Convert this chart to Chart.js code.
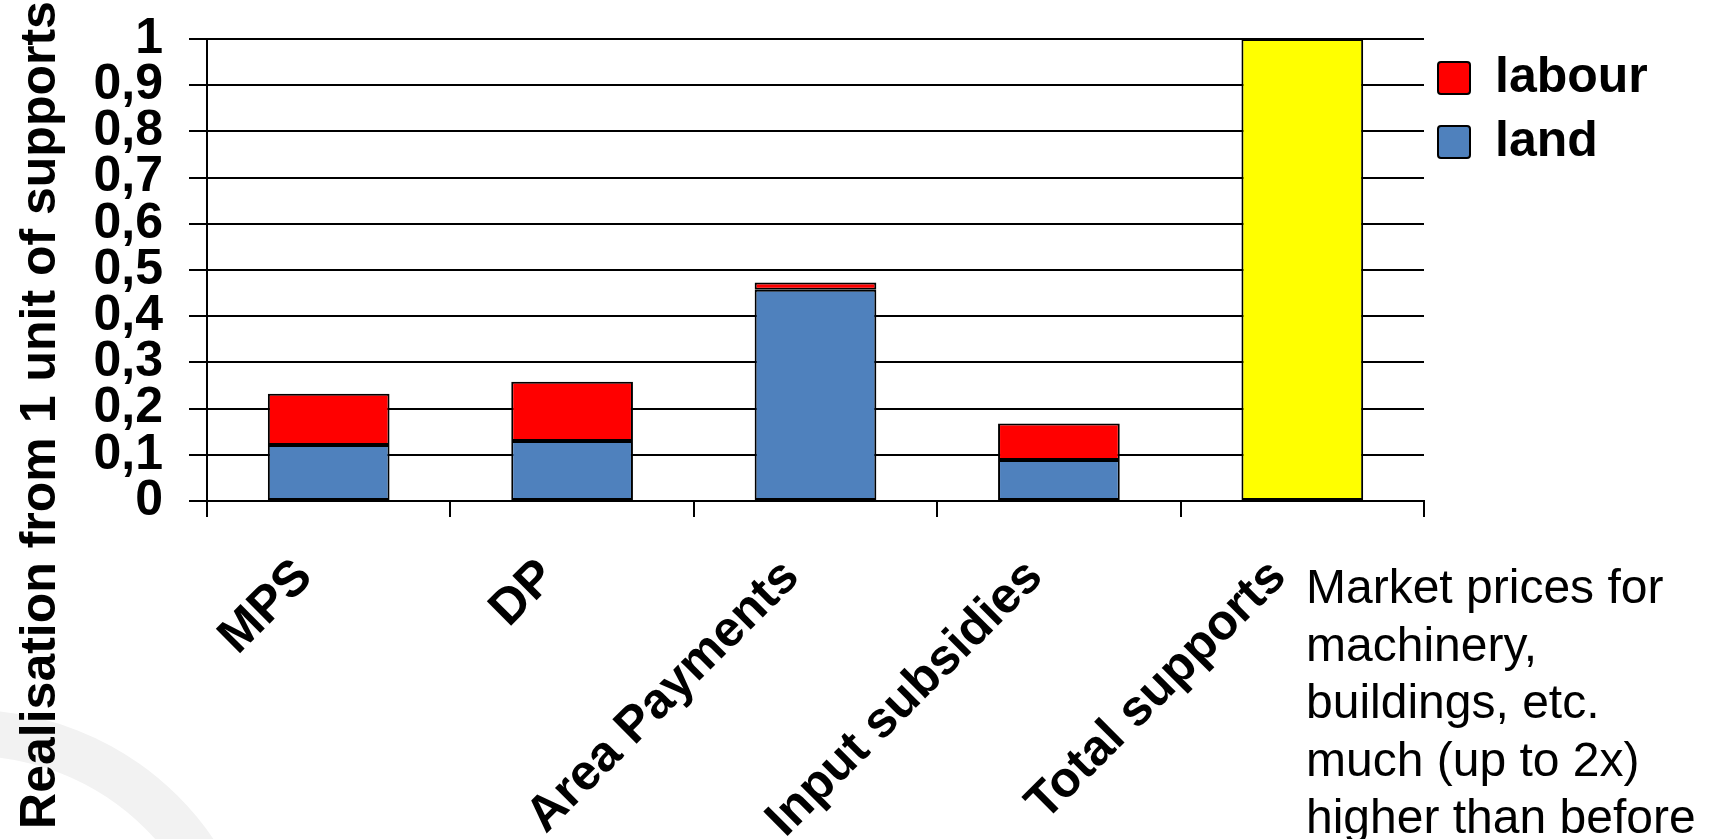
<!DOCTYPE html>
<html>
<head>
<meta charset="utf-8">
<title>Realisation from 1 unit of supports</title>
<script src="https://cdn.jsdelivr.net/npm/chart.js@4.4.1/dist/chart.umd.min.js"></script>
<style>
  html, body { margin: 0; padding: 0; background: #fff; overflow: hidden; }
  #wrap { position: relative; width: 1711px; height: 839px; overflow: hidden; }
  #ring { position: absolute; left: -324px; top: 710px; width: 588px; height: 588px;
          box-sizing: border-box; border: 46px solid #f2f2f2; border-radius: 50%; }
  #chartBox { position: absolute; left: 0; top: 0; width: 1711px; height: 839px; }
  #note { position: absolute; left: 1306px; top: 558px; color: #000; white-space: nowrap;
          font: 48px/57.5px "Liberation Sans", Arial, sans-serif; }
</style>
</head>
<body>
<div id="wrap">
  <div id="ring"></div>
  <div id="chartBox"><canvas id="supportChart"></canvas></div>
  <div id="note">Market prices for<br>machinery,<br>buildings, etc.<br>much (up to 2x)<br>higher than before</div>
</div>
<script>
// Data
const categories = ['MPS', 'DP', 'Area Payments', 'Input subsidies', 'Total supports'];
const landValues = [0.121, 0.130, 0.457, 0.089, null];
const labourValues = [0.111, 0.128, 0.016, 0.079, null];
const totalValues = [null, null, null, null, 1];
const yTickLabels = ['0', '0,1', '0,2', '0,3', '0,4', '0,5', '0,6', '0,7', '0,8', '0,9', '1'];
const yTitle = 'Realisation from 1 unit of supports';

document.addEventListener('DOMContentLoaded', function() {
    Chart.defaults.font.family = '"Liberation Sans", Arial, sans-serif';
    Chart.defaults.color = '#000';

    const boldFont = { size: 50, weight: 'bold' };

    // Fixed legend width so the plot ends where it does in the picture
    const legendWidthPlugin = {
        id: 'legendWidth',
        beforeLayout(chart) {
            const lg = chart.legend;
            if (lg && !lg._fixedWidth) {
                const fit = lg.fit;
                lg.fit = function() {
                    fit.call(this);
                    this.width = 287;
                };
                lg._fixedWidth = true;
            }
        }
    };

    // Vertical axis title, longer than the plot, so drawn by hand
    const yTitlePlugin = {
        id: 'yTitle',
        afterDraw(chart) {
            const ctx = chart.ctx;
            ctx.save();
            ctx.translate(55, 415);
            ctx.rotate(-Math.PI / 2);
            ctx.font = 'bold 50px "Liberation Sans", Arial, sans-serif';
            ctx.fillStyle = '#000';
            ctx.textAlign = 'center';
            ctx.textBaseline = 'alphabetic';
            ctx.fillText(yTitle, 0, 0);
            ctx.restore();
        }
    };

    const ctx = document.getElementById('supportChart').getContext('2d');

    new Chart(ctx, {
        type: 'bar',
        data: {
            labels: categories,
            datasets: [
                {
                    label: 'land',
                    data: landValues,
                    backgroundColor: '#4F81BD',
                    borderColor: '#000',
                    borderWidth: 2,
                    borderSkipped: false
                },
                {
                    label: 'labour',
                    data: labourValues,
                    backgroundColor: '#FF0000',
                    borderColor: '#000',
                    borderWidth: 2,
                    borderSkipped: false
                },
                {
                    label: 'total',
                    data: totalValues,
                    backgroundColor: '#FFFF00',
                    borderColor: '#000',
                    borderWidth: 2,
                    borderSkipped: false
                }
            ]
        },
        options: {
            responsive: true,
            maintainAspectRatio: false,
            animation: false,
            datasets: {
                bar: { categoryPercentage: 1, barPercentage: 0.5 }
            },
            layout: {
                padding: { top: 39, left: 0, right: 0, bottom: 0 }
            },
            scales: {
                x: {
                    stacked: true,
                    grid: {
                        display: true,
                        drawOnChartArea: false,
                        drawTicks: true,
                        tickLength: 16,
                        color: '#000',
                        lineWidth: 2
                    },
                    border: { display: true, color: '#000', width: 2 },
                    ticks: {
                        font: boldFont,
                        color: '#000',
                        minRotation: 45,
                        maxRotation: 45,
                        autoSkip: false,
                        padding: 31,
                        labelOffset: -24
                    },
                    afterFit: function(scale) {
                        scale.height = 338;
                    }
                },
                y: {
                    stacked: true,
                    min: 0,
                    max: 1,
                    grid: {
                        color: '#000',
                        lineWidth: 2,
                        tickLength: 18
                    },
                    border: { display: true, color: '#000', width: 2 },
                    ticks: {
                        stepSize: 0.1,
                        autoSkip: false,
                        font: boldFont,
                        color: '#000',
                        padding: 26,
                        callback: function(value, index) {
                            return yTickLabels[index];
                        }
                    },
                    afterFit: function(scale) {
                        scale.width = 207;
                        // the layout padding already leaves room for the end labels
                        scale.paddingTop = 0;
                        scale.paddingBottom = 0;
                    }
                }
            },
            plugins: {
                legend: {
                    position: 'right',
                    align: 'start',
                    reverse: true,
                    labels: {
                        filter: item => item.datasetIndex !== 2,
                        font: boldFont,
                        color: '#000',
                        boxWidth: 32,
                        boxHeight: 32,
                        padding: 14,
                        useBorderRadius: true,
                        borderRadius: 3
                    }
                },
                tooltip: { enabled: false }
            }
        },
        plugins: [legendWidthPlugin, yTitlePlugin]
    });
});
</script>
</body>
</html>
